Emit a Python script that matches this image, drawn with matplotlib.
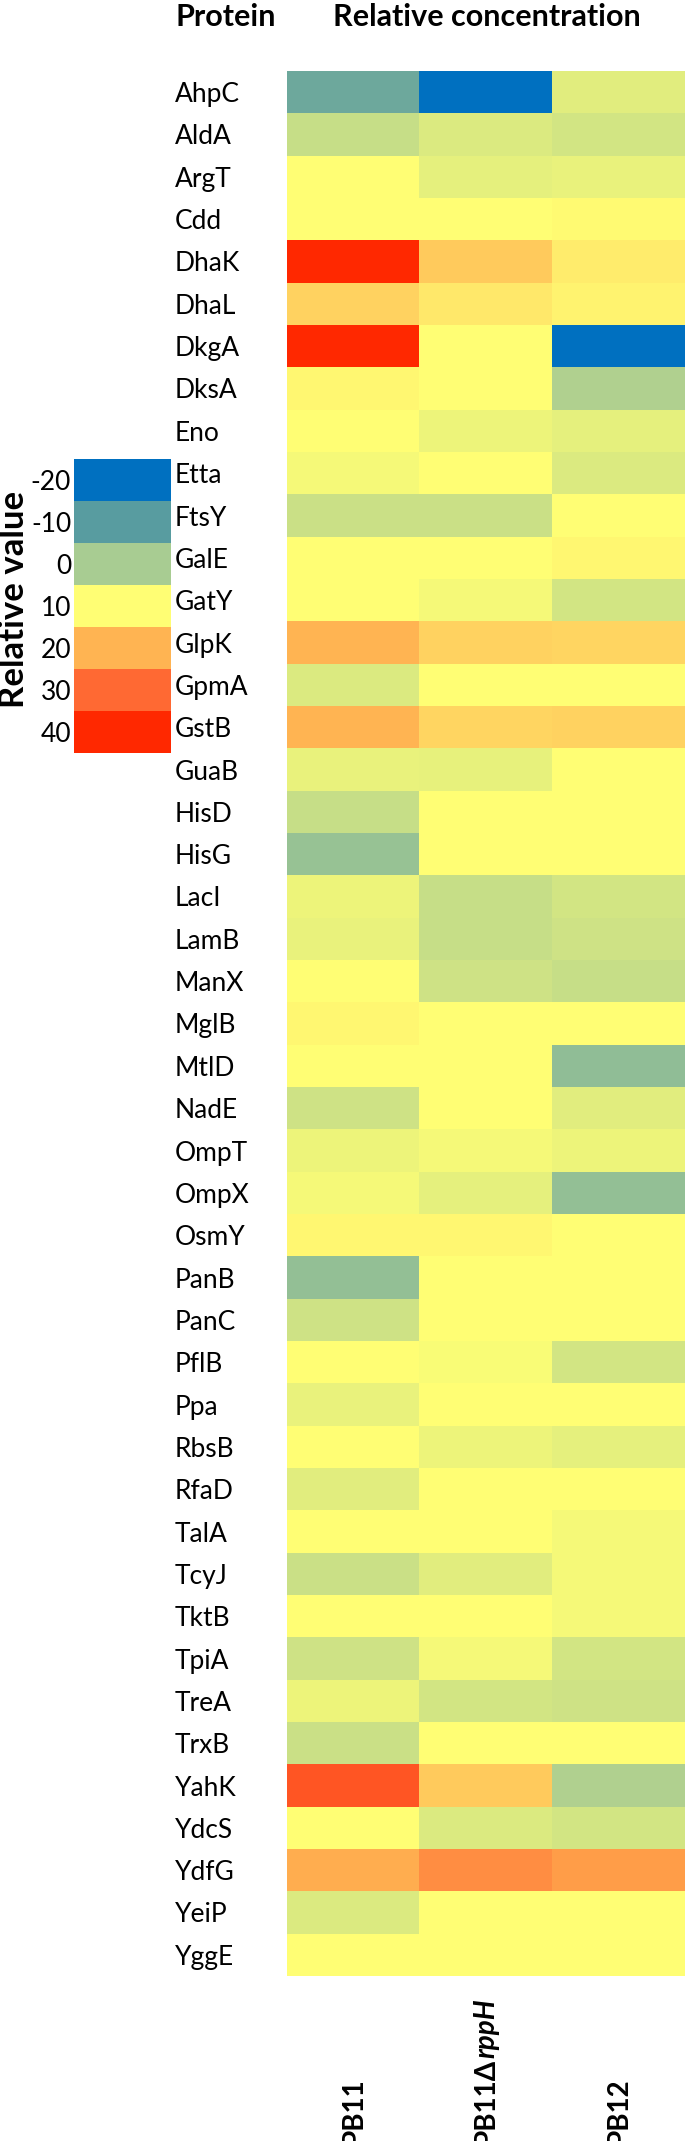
import numpy as np
import matplotlib
matplotlib.use("Agg")
import matplotlib.pyplot as plt
from matplotlib.colors import LinearSegmentedColormap, Normalize
from matplotlib import transforms

# -------------------------
# Data
# -------------------------
proteins = ["AhpC", "AldA", "ArgT", "Cdd", "DhaK", "DhaL", "DkgA", "DksA", "Eno",
            "Etta", "FtsY", "GalE", "GatY", "GlpK", "GpmA", "GstB", "GuaB", "HisD",
            "HisG", "LacI", "LamB", "ManX", "MglB", "MtlD", "NadE", "OmpT", "OmpX",
            "OsmY", "PanB", "PanC", "PflB", "Ppa", "RbsB", "RfaD", "TalA", "TcyJ",
            "TktB", "TpiA", "TreA", "TrxB", "YahK", "YdcS", "YdfG", "YeiP", "YggE"]

pb11 = [-7.5, 3.5, 10, 10, 40, 16, 40, 11, 10,
        9, 4, 10, 10, 20, 6, 20, 7.5, 3.5,
        -2, 8, 7.5, 10, 11, 10, 4.5, 8, 9,
        11, -2.5, 4.5, 10, 7.5, 10, 6.5, 10, 4,
        10, 4.5, 8, 4, 33, 10, 21, 6, 10]

pb11_rpph = [-20, 6, 7, 10, 17, 13, 10, 10, 8,
             10, 4, 10, 9, 16, 10, 15.5, 7.2, 10,
             10, 3.5, 3.5, 4.5, 10, 10, 10, 9, 7,
             11, 10, 10, 9.5, 10, 8, 10, 10, 6.5,
             10, 9, 5, 10, 17, 6, 25, 10, 10]

pb12 = [6.5, 5, 7.5, 10.5, 12.5, 11.5, -20, 1, 7,
        6, 10, 11, 5, 15.5, 10, 16, 10, 10,
        10, 5, 4.5, 3.5, 10, -3, 6.5, 8, -2.5,
        10, 10, 10, 5, 10, 7, 10, 9, 9,
        9, 5, 4.5, 10, 1, 5, 23, 10, 10]

strains = ["PB11", "PB11\u0394", "PB12"]
legend_levels = [-20, -10, 0, 10, 20, 30, 40]
legend_colors = ["#0070C0", "#5A9DA0", "#A8CC92", "#FFFF75", "#FFB452", "#FF6A34", "#FF2800"]

# -------------------------
# Setup
# -------------------------
W, H = 685, 2141
FONT = ["Lato", "DejaVu Sans"]
plt.rcParams["font.family"] = FONT

vmin, vmax = legend_levels[0], legend_levels[-1]
nodes = [(v - vmin) / (vmax - vmin) for v in legend_levels]
cmap = LinearSegmentedColormap.from_list("relval", list(zip(nodes, legend_colors)))
norm = Normalize(vmin=vmin, vmax=vmax)

fig = plt.figure(figsize=(W / 100, H / 100), dpi=100)

# -------------------------
# Heatmap
# -------------------------
ax = fig.add_axes([287 / W, (H - 1976) / H, (W - 287) / W, (1976 - 71) / H])
matrix = np.column_stack([pb11, pb11_rpph, pb12])
ax.imshow(matrix, cmap=cmap, norm=norm, aspect="auto", interpolation="nearest")
for s in ax.spines.values():
    s.set_visible(False)
ax.set_xticks([])
ax.set_yticks(range(len(proteins)))
ax.set_yticklabels(proteins, fontsize=19, ha="left")
ax.tick_params(axis="y", length=0, pad=(287 - 175) * 0.72)

# column labels at the bottom of the figure (they run off the edge, as in the original)
trans = transforms.blended_transform_factory(ax.transData, fig.transFigure)
col_texts = []
for i, name in enumerate(strains):
    t = ax.text(i, -4 / H, name, transform=trans, rotation=90, ha="center",
                va="bottom", fontsize=20, fontweight="bold", family=FONT, clip_on=False)
    col_texts.append(t)
ax.annotate("rppH", xy=(0.5, 1.0), xycoords=col_texts[1], rotation=90,
            ha="center", va="bottom", fontsize=20, fontweight="bold",
            fontstyle="italic", family=FONT, annotation_clip=False)

# headers
fig.text(175 / W, 1 - 3 / H, "Protein", ha="left", va="top", fontsize=22, fontweight="bold")
fig.text(333 / W, 1 - 3 / H, "Relative concentration", ha="left", va="top",
         fontsize=22, fontweight="bold")

# -------------------------
# Legend
# -------------------------
lax = fig.add_axes([74 / W, (H - 753) / H, 96 / W, (753 - 459) / H])
lax.imshow(np.array(legend_levels).reshape(-1, 1), cmap=cmap, norm=norm,
           aspect="auto", interpolation="nearest")
for s in lax.spines.values():
    s.set_visible(False)
lax.set_xticks([])
lax.set_yticks(range(len(legend_levels)))
lax.set_yticklabels([str(v) for v in legend_levels], fontsize=19)
lax.tick_params(axis="y", length=0, pad=2)
fig.text(14 / W, 1 - 599 / H, "Relative value", rotation=90, ha="center", va="center",
         fontsize=25, fontweight="bold")

fig.savefig("out.png", dpi=100)
